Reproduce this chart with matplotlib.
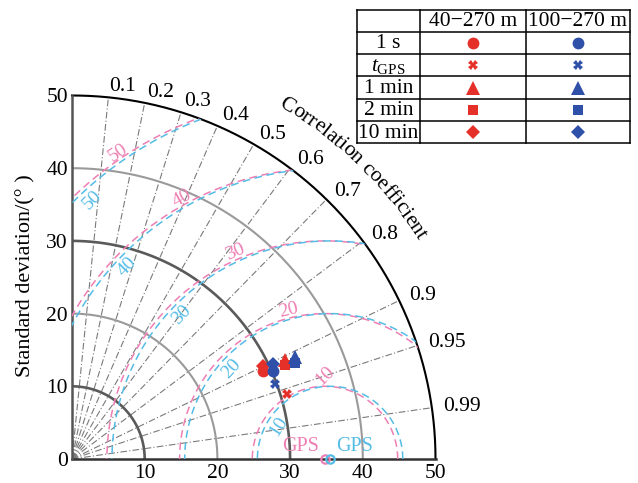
import numpy as np
import matplotlib
matplotlib.use("Agg")
import matplotlib.pyplot as plt
from matplotlib.patches import Wedge
from matplotlib.font_manager import FontProperties

plt.rcParams["font.family"] = ["Liberation Serif", "DejaVu Serif"]
plt.rcParams["mathtext.fontset"] = "custom"
plt.rcParams["mathtext.rm"] = "Liberation Serif"
plt.rcParams["mathtext.it"] = "Liberation Serif:italic"

# ---- data -------------------------------------------------------------
categories = ["1 s", r"$t_{\mathrm{GPS}}$", "1 min", "2 min", "10 min"]
groups = ["40\u2212270 m", "100\u2212270 m"]

std_40 = [28.9, 30.9, 32.3, 32.0, 29.2]
corr_40 = [0.908, 0.957, 0.907, 0.915, 0.899]
std_100 = [30.2, 29.8, 33.7, 33.4, 30.6]
corr_100 = [0.916, 0.938, 0.909, 0.918, 0.904]

ref_std_40 = 34.8
ref_std_100 = 35.5

std_grid = [10, 20, 30, 40]
std_max = 50
x_ticks = [10, 20, 30, 40, 50]
y_ticks = [0, 10, 20, 30, 40, 50]
corr_ticks = [0.1, 0.2, 0.3, 0.4, 0.5, 0.6, 0.7, 0.8, 0.9, 0.95, 0.99]
rmsd_levels = [10, 20, 30, 40, 50]

# ---- styles -----------------------------------------------------------
RED = "#E5302A"
BLUE = "#2E50A8"
PINK = "#EE7FB3"
SKY = "#55BCE6"
markers = ["o", "X", "^", "s", "D"]
msizes = [8.5, 6.5, 10, 7.5, 7]
FS = 15.5

W, H = 638, 483
fig = plt.figure(figsize=(W / 100, H / 100), dpi=100)
ax = fig.add_axes([72 / W, (H - 459) / H, 363.5 / W, 363.5 / H])
ax.set_xlim(0, std_max)
ax.set_ylim(0, std_max)
ax.set_aspect("equal")
for sp in ax.spines.values():
    sp.set_visible(False)

ax.set_xticks(x_ticks)
ax.set_yticks(y_ticks)
ax.tick_params(length=0, labelsize=FS, pad=3)
ax.tick_params(axis="x", pad=3.5)
ax.set_ylabel("Standard deviation/(\u00b0 )", fontsize=16)
ax.yaxis.set_label_coords(-0.10, 0.505)

# correlation rays
for c in corr_ticks:
    th = np.arccos(c)
    ax.plot([0, std_max * np.cos(th)], [0, std_max * np.sin(th)],
            color="#7a7a7a", lw=0.8, ls=(0, (6, 2, 1, 2)), zorder=1)
    ax.text(51.5 * np.cos(th), 51.5 * np.sin(th), f"{c:g}", fontsize=FS,
            ha="left", va="center", clip_on=False)

# standard deviation arcs
t = np.linspace(0, np.pi / 2, 300)
for s in std_grid:
    dark = s in (10, 30)
    ax.plot(s * np.cos(t), s * np.sin(t), color="#5a5a5a" if dark else "#9a9a9a",
            lw=1.9 if dark else 1.5, zorder=2)
ax.plot(std_max * np.cos(t), std_max * np.sin(t), color="black", lw=1.5,
        zorder=2, clip_on=False)

# axis lines
ax.plot([0, std_max], [0, 0], color="#333333", lw=1.8, zorder=2, clip_on=False)
ax.plot([0, 0], [0, std_max], color="#555555", lw=1.8, zorder=2, clip_on=False)

# centred RMS difference circles
tt = np.linspace(0, np.pi, 600)
rmsd_label_pos = {
    PINK: {50: (124.0, 50.8, 34), 40: (118.7, 40.9, 28.7), 30: (113.5, 31.1, 23.5),
           20: (103.8, 21.1, 13.8), 10: (90.0, 11.4, 45)},
    SKY: {50: (132.5, 48.3, 45), 40: (136.5, 38.5, 46.5), 30: (135.9, 28.4, 45.9),
          20: (137.3, 18.4, 47.3), 10: (148.0, 8.4, 58)},
}
for ref, col in ((ref_std_40, PINK), (ref_std_100, SKY)):
    clip = Wedge((0, 0), std_max, 0, 90, transform=ax.transData)
    for lev in rmsd_levels:
        ln, = ax.plot(ref + lev * np.cos(tt), lev * np.sin(tt), color=col, lw=1.1,
                      ls=(0, (5, 3)), zorder=3)
        ln.set_clip_path(clip)
        ang, rr, rot = rmsd_label_pos[col][lev]
        a = np.deg2rad(ang)
        ax.text(ref + rr * np.cos(a), rr * np.sin(a), str(lev), color=col,
                fontsize=14, rotation=rot, ha="center", va="center",
                rotation_mode="anchor", zorder=4)

# reference points
ax.plot(ref_std_40, 0, "o", mfc="none", mec=PINK, mew=1.6, ms=6, zorder=7, clip_on=False)
ax.plot(ref_std_100, 0, "o", mfc="none", mec=SKY, mew=1.6, ms=6, zorder=7, clip_on=False)
ax.text(ref_std_40 - 3.3, 1.7, "GPS", color=PINK, fontsize=14.5, ha="center", va="center")
ax.text(ref_std_100 + 3.3, 1.7, "GPS", color=SKY, fontsize=14.5, ha="center", va="center")

# model points
for stds, cors, col in ((std_40, corr_40, RED), (std_100, corr_100, BLUE)):
    for i in [0, 3, 4, 2, 1]:
        th = np.arccos(cors[i])
        ax.plot(stds[i] * np.cos(th), stds[i] * np.sin(th), markers[i], color=col,
                ms=msizes[i], mew=0, zorder=6)

# curved axis title along the outer arc
fig.canvas.draw()
renderer = fig.canvas.get_renderer()
fp = FontProperties(family="Liberation Serif", size=FS)
title = "Correlation coefficient"
k = ax.transData.transform((1, 0))[0] - ax.transData.transform((0, 0))[0]


def text_w(s):
    if not s:
        return 0.0
    return renderer.get_text_width_height_descent(s, fp, ismath=False)[0] / k


total = text_w(title)
r_base = 56.3
theta_c = np.deg2rad(46.0)
for i, ch in enumerate(title):
    if ch == " ":
        continue
    d = text_w(title[:i + 1]) - text_w(ch) / 2
    th = theta_c + (total / 2 - d) / r_base
    ax.text(r_base * np.cos(th), r_base * np.sin(th), ch, fontproperties=fp,
            rotation=np.rad2deg(th) - 90, ha="center", va="baseline",
            rotation_mode="anchor", clip_on=False)

# legend table
tab = fig.add_axes([0, 0, 1, 1], zorder=5)
tab.set_xlim(0, W)
tab.set_ylim(H, 0)
tab.axis("off")
tab.patch.set_alpha(0)
col_x = [357, 420, 526, 630]
row_y = np.linspace(9.5, 143.3, 7)
for x in col_x:
    tab.plot([x, x], [row_y[0], row_y[-1]], color="black", lw=1.1)
for y in row_y:
    tab.plot([col_x[0], col_x[-1]], [y, y], color="black", lw=1.1)
cx = [(col_x[j] + col_x[j + 1]) / 2 for j in range(3)]
cy = [(row_y[j] + row_y[j + 1]) / 2 for j in range(6)]
for j, g in enumerate(groups):
    tab.text(cx[j + 1], cy[0] + 1, g, fontsize=FS, ha="center", va="center")
for i, cat in enumerate(categories):
    tab.text(cx[0], cy[i + 1] + 1, cat, fontsize=FS, ha="center", va="center")
    tab.plot(cx[1], cy[i + 1], markers[i], color=RED, ms=msizes[i], mew=0)
    tab.plot(cx[2], cy[i + 1], markers[i], color=BLUE, ms=msizes[i], mew=0)

fig.savefig("out.png", dpi=100)
